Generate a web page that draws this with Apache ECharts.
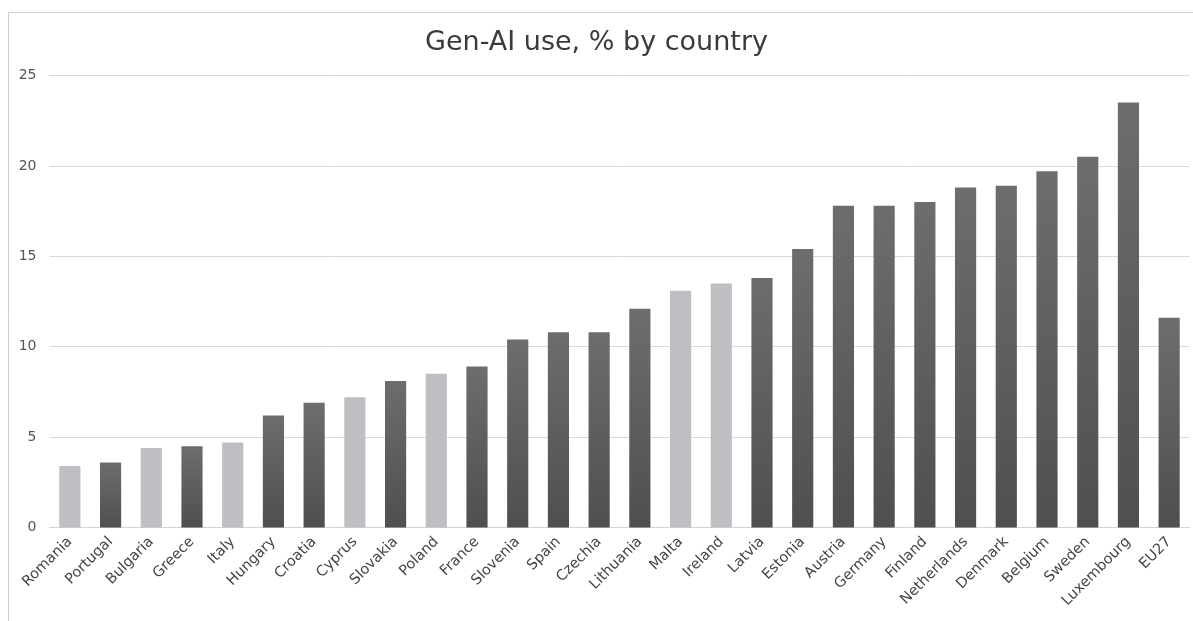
<!DOCTYPE html>
<html>
<head>
<meta charset="utf-8">
<title>Gen-AI use, % by country</title>
<script src="https://cdn.jsdelivr.net/npm/echarts@6/dist/echarts.min.js"></script>
<style>
  html, body { margin: 0; padding: 0; background: #fff; }
  #chart { width: 1193px; height: 621px; }
</style>
</head>
<body>
<div id="chart"></div>
<script>
var countries = ['Romania', 'Portugal', 'Bulgaria', 'Greece', 'Italy', 'Hungary', 'Croatia',
    'Cyprus', 'Slovakia', 'Poland', 'France', 'Slovenia', 'Spain', 'Czechia', 'Lithuania',
    'Malta', 'Ireland', 'Latvia', 'Estonia', 'Austria', 'Germany', 'Finland', 'Netherlands',
    'Denmark', 'Belgium', 'Sweden', 'Luxembourg', 'EU27'];
var usePct = [3.4, 3.6, 4.4, 4.5, 4.7, 6.2, 6.9, 7.2, 8.1, 8.5, 8.9, 10.4, 10.8, 10.8, 12.1,
    13.1, 13.5, 13.8, 15.4, 17.8, 17.8, 18.0, 18.8, 18.9, 19.7, 20.5, 23.5, 11.6];
// countries drawn in the light grey
var lightCountries = ['Romania', 'Bulgaria', 'Italy', 'Cyprus', 'Poland', 'Malta', 'Ireland'];
var yTicks = [0, 5, 10, 15, 20, 25];

var FONT = '"DejaVu Sans", sans-serif';

var darkFill = new echarts.graphic.LinearGradient(0, 0, 0, 1, [
    { offset: 0, color: '#6d6d6f' },
    { offset: 1, color: '#4f4f51' }
]);

var barData = usePct.map(function (v, i) {
    var light = lightCountries.indexOf(countries[i]) >= 0;
    return {
        value: v,
        itemStyle: { color: light ? '#bebfc2' : darkFill }
    };
});

var chart = echarts.init(document.getElementById('chart'), null, { renderer: 'canvas' });
chart.setOption({
    backgroundColor: '#fff',
    animation: false,
    title: {
        text: 'Gen-AI use, % by country',
        left: 'center',
        top: 24,
        textStyle: { fontFamily: FONT, fontSize: 27, fontWeight: 'normal', color: '#3a3a3a' }
    },
    graphic: [{
        type: 'rect',
        shape: { x: 8.5, y: 12.5, width: 1190, height: 640 },
        style: { fill: 'none', stroke: '#cfcfcf', lineWidth: 1 },
        silent: true
    }],
    grid: { left: 49.5, right: 3.5, top: 75.5, bottom: 93.5, containLabel: false },
    xAxis: {
        type: 'category',
        data: countries,
        axisLine: { lineStyle: { color: '#d4d4d4', width: 1 } },
        axisTick: { show: false },
        axisLabel: {
            interval: 0,
            rotate: 45,
            margin: 12,
            fontFamily: FONT,
            fontSize: 14.5,
            color: '#444'
        }
    },
    yAxis: {
        type: 'value',
        min: yTicks[0],
        max: yTicks[yTicks.length - 1],
        interval: yTicks[1] - yTicks[0],
        axisLine: { show: false },
        axisTick: { show: false },
        splitLine: { lineStyle: { color: '#d9d9d9', width: 1 } },
        axisLabel: {
            margin: 13,
            fontFamily: FONT,
            fontSize: 14,
            color: '#555'
        }
    },
    series: [{
        type: 'bar',
        data: barData,
        barWidth: '52%'
    }]
});
</script>
</body>
</html>
